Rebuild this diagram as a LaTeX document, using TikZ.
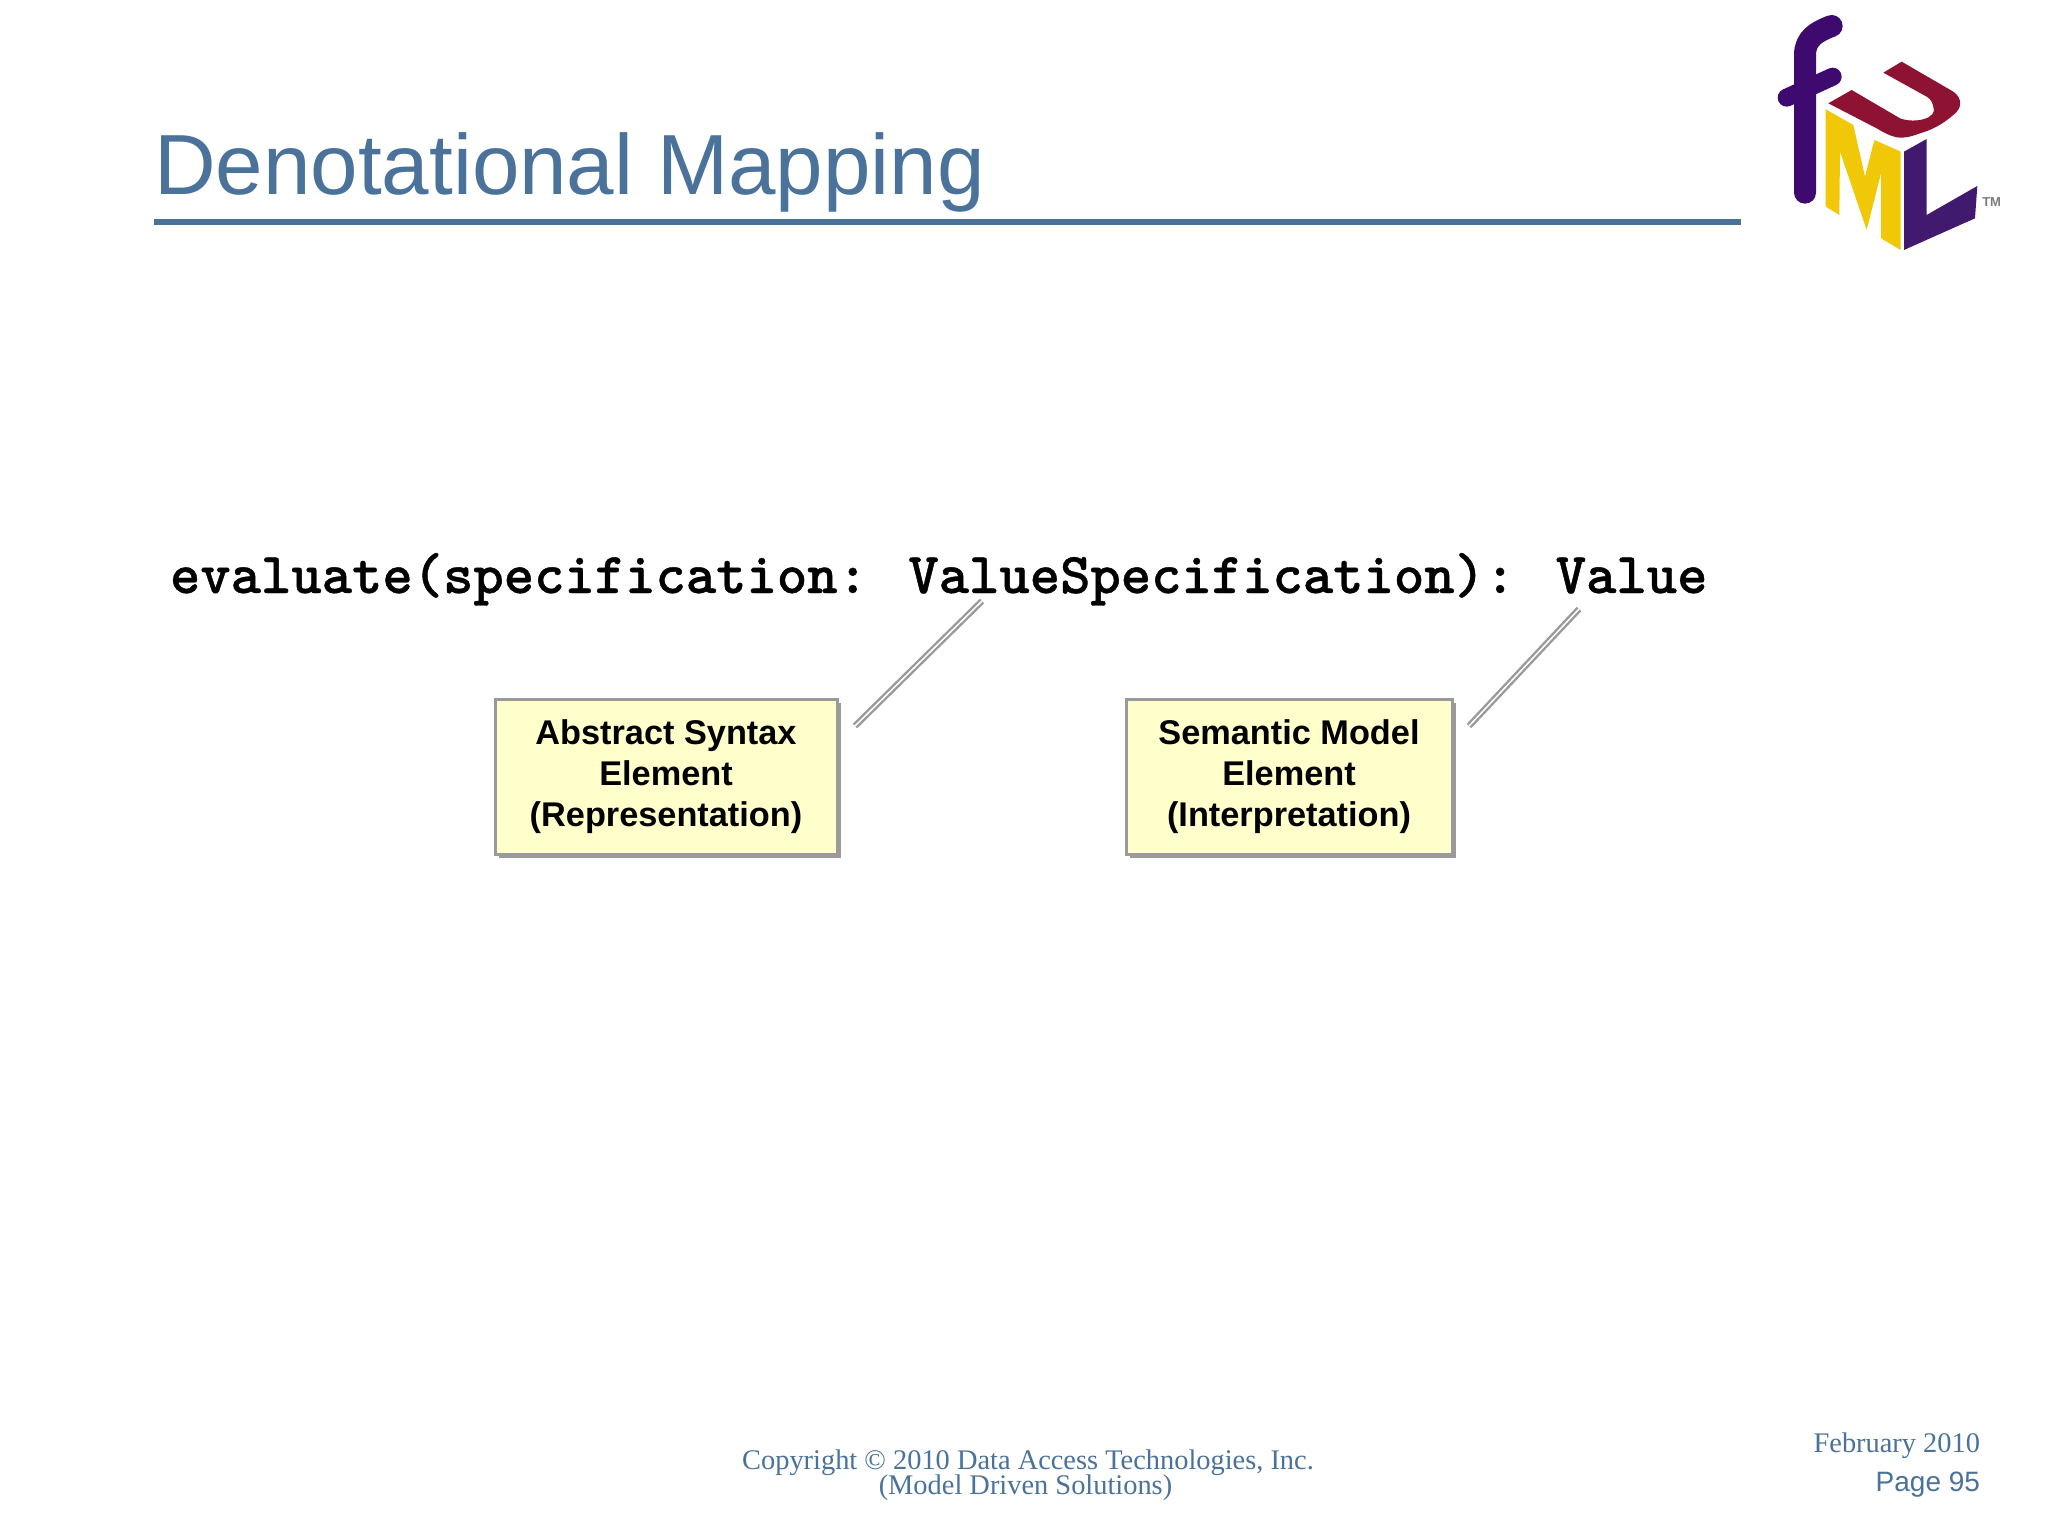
\documentclass[tikz,border=0pt]{standalone}
\usepackage{fontspec}
\setmainfont{Liberation Sans}
\newfontfamily\serifface{Liberation Serif}
\newfontfamily\codeface[BoldFeatures={FakeBold=0.7}]{Latin Modern Mono Light}
\usetikzlibrary{shadows}
\definecolor{slate}{HTML}{4A729A}
\definecolor{boxfill}{HTML}{FFFFCC}
\definecolor{boxline}{HTML}{9A9A9A}
\definecolor{logopurple}{HTML}{3F0A70}
\definecolor{logored}{HTML}{8E1232}
\definecolor{logoyellow}{HTML}{F0C808}
\definecolor{logoviolet}{HTML}{41196E}
\tikzset{
  x=1pt,y=1pt,
  plain/.style={inner sep=0pt,outer sep=0pt},
  titletext/.style={plain,anchor=base west,text=slate,font=\fontsize{85.4}{85.4}\selectfont},
  codetext/.style={plain,anchor=base west,text=black,font=\codeface\bfseries\fontsize{57.8}{57.8}\selectfont},
  foottext/.style={plain,text=slate,font=\serifface\fontsize{28.4}{21}\selectfont},
  notebox/.style={plain,draw=boxline,line width=3pt,fill=boxfill,minimum height=155pt,align=center,
    font=\bfseries\fontsize{34.3}{41}\selectfont,
    drop shadow={shadow xshift=4pt,shadow yshift=-4pt,fill=boxline,opacity=1}},
  leader/.style={draw=boxline,line width=2.4pt,double=white,double distance=1.5pt},
}
\begin{document}
\begin{tikzpicture}
\useasboundingbox (0,0) rectangle (2048,-1536);
\fill[white] (0,0) rectangle (2048,-1536);
% title
\node[titletext] (title) at (154,-194) {Denotational Mapping};
\coordinate (ruleL) at (154,-222);
\coordinate (ruleR) at (1741,-222);
\draw[slate,line width=6pt] (ruleL) -- (ruleR);
% code
\node[codetext] (code) at (170,-593) {evaluate(specification: ValueSpecification): Value};
% boxes
\node[notebox,minimum width=342pt] (abs) at (666,-776.5) {Abstract Syntax\\Element\\(Representation)};
\node[notebox,minimum width=326pt] (sem) at (1289,-776.5) {Semantic Model\\Element\\(Interpretation)};
% leaders
\coordinate (a1) at (855,-726);
\coordinate (a2) at (982,-601);
\coordinate (b1) at (1469,-726);
\coordinate (b2) at (1579,-609);
\draw[leader] (a1) -- (a2);
\draw[leader] (b1) -- (b2);
% footer
\node[foottext,anchor=base,align=center] (copy) at (1028,-1494) {Copyright © 2010 Data Access Technologies, Inc.\\[-2.5pt](Model Driven Solutions)\hspace*{5pt}};
\node[foottext,anchor=base east] (date) at (1980,-1452) {February 2010};
\node[plain,anchor=base east,text=slate,font=\fontsize{28}{28}\selectfont] (page) at (1980,-1491) {Page 95};
% logo
\begin{scope}[shift={(1760,0)},x=0.3333pt,y=-0.3333pt]
  \draw[logopurple,line width=22pt,line cap=round,line join=round]
    (135,578) -- (135,165) .. controls (135,115) and (170,95) .. (215,78);
  \draw[logopurple,line width=18pt,line cap=round] (80,293) -- (135,268) -- (218,230);
  \fill[logored] (205,310) -- (275,270) -- (420,355)
    .. controls (465,372) and (535,355) .. (520,320)
    .. controls (517,305) and (510,296) .. (500,290)
    -- (370,218) -- (425,185) -- (580,275)
    .. controls (608,295) and (607,325) .. (580,345)
    .. controls (545,375) and (515,390) .. (480,400)
    .. controls (450,412) and (425,415) .. (410,412)
    .. controls (390,408) and (370,397) .. (350,385) -- cycle;
  \fill[logoyellow] (197,328) -- (280,375) -- (315,530) -- (343,420) -- (422,455)
    -- (422,750) -- (363,715) -- (363,520) -- (320,690) -- (240,455) -- (238,645) -- (197,620) -- cycle;
  \fill[logoviolet] (432,455) -- (500,417) -- (500,645) -- (652,558) -- (645,655) -- (432,750) -- cycle;
  \node[plain,text=boxline!80!black,font=\bfseries\fontsize{13}{13}\selectfont] (tm) at (695,607) {TM};
\end{scope}
\end{tikzpicture}
\end{document}
